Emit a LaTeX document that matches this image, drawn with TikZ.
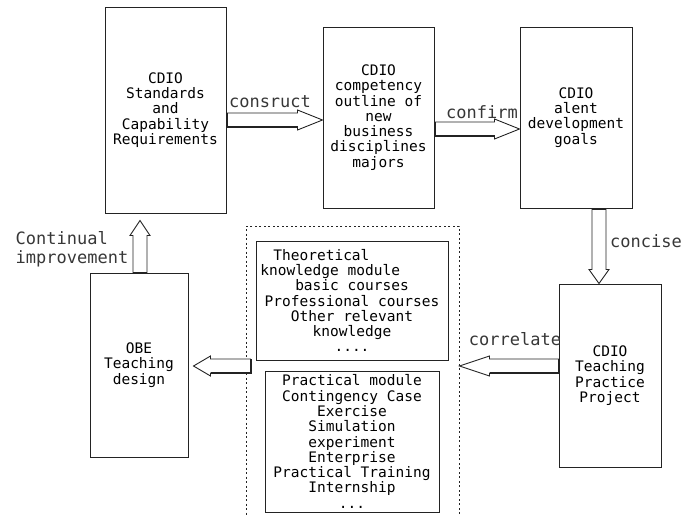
\documentclass[tikz,border=0pt]{standalone}
\usepackage{fontspec}
\setmainfont{DejaVu Sans Mono}
\usetikzlibrary{positioning, calc}
\definecolor{frame}{RGB}{35,35,35}
\definecolor{labeltext}{RGB}{55,55,55}

\tikzset{
  stage/.style={draw=frame, line width=1pt, align=center, inner sep=2pt,
                font=\fontsize{14.5}{15.3}\selectfont},
  module/.style={draw=frame, line width=1pt, dash pattern=on 2pt off 2.5pt},
  verb/.style={text=labeltext, inner sep=0pt, font=\fontsize{17}{19}\selectfont},
  arrowline/.style={draw=frame, line width=0.9pt, fill=white, line join=miter},
  shadeline/.style={draw=frame, line width=2pt},
}

% hollow block arrow: start, end, head length, shaded side (0 = tail only)
\newcommand{\hollowarrow}[4]{%
  \draw[arrowline] let \p1=(#1), \p2=(#2),
      \n1={atan2(\y2-\y1,\x2-\x1)}, \n2={veclen(\x2-\x1,\y2-\y1)} in
    (\p1) ++({\n1+90}:7pt) -- ++({\n1}:{(\n2-#3)*1pt}) -- ++({\n1+90}:3pt) -- (\p2)
    -- ($(\p1)+({\n1}:{(\n2-#3)*1pt})+({\n1-90}:10pt)$) -- ++({\n1+90}:3pt)
    -- ++({\n1+180}:{(\n2-#3)*1pt}) -- cycle;
  \ifnum#4=0
    \draw[shadeline] let \p1=(#1), \p2=(#2), \n1={atan2(\y2-\y1,\x2-\x1)} in
      ($(\p1)+({\n1+90}:7pt)$) -- ($(\p1)+({\n1-90}:7pt)$);
  \else
    \draw[shadeline] let \p1=(#1), \p2=(#2),
        \n1={atan2(\y2-\y1,\x2-\x1)}, \n2={veclen(\x2-\x1,\y2-\y1)} in
      ($(\p1)+({\n1-#4*90}:7pt)$) -- ($(\p1)+({\n1+#4*90}:7pt)$)
      -- ++({\n1}:{(\n2-#3)*1pt});
  \fi
}

\begin{document}
\begin{tikzpicture}[x=1pt, y=-1pt]
\useasboundingbox (0,0) rectangle (683,515);

% top row
\node[stage, minimum width=121pt, minimum height=206pt] (std) at (165.5,110)
  {CDIO\\Standards\\and\\Capability\\Requirements};
\node[stage, minimum width=111pt, minimum height=181pt] (comp) at (378.5,117.5)
  {CDIO\\competency\\outline of\\new\\business\\disciplines\\majors};
\node[stage, minimum width=112pt, minimum height=181pt] (goal) at (576,117.5)
  {CDIO\\alent\\development\\goals};

% bottom row
\node[stage, minimum width=98pt, minimum height=184pt] (obe) at (139,365)
  {OBE\\Teaching\\design};
\node[stage, minimum width=102pt, minimum height=183pt] (tpp) at (610,375.5)
  {CDIO\\Teaching\\Practice\\Project};

% course modules
\node[module, minimum width=213pt, minimum height=300pt] (mod) at (352.5,376) {};
\node[stage, minimum width=192pt, minimum height=119pt] (theo) at (352,300.5)
  {Theoretical\phantom{xxxxxxx}\\knowledge module\phantom{xxxxx}\\basic courses\\
   Professional courses\\Other relevant\\knowledge\\....};
\node[stage, minimum width=174pt, minimum height=141pt] (prac) at (352,441.5)
  {Practical module\\Contingency Case\\Exercise\\Simulation\\experiment\\
   Enterprise\\Practical Training\\Internship\\...};

% arrows
\coordinate (c1) at ($(std.east)+(0,10)$);
\hollowarrow{c1}{c1 -| comp.west}{25}{-1}
\coordinate (c2) at ($(comp.east)+(0,11.5)$);
\hollowarrow{c2}{c2 -| goal.west}{25}{-1}
\coordinate (c3) at ($(goal.south)+(23,0)$);
\hollowarrow{c3}{c3 |- tpp.north}{14}{0}
\coordinate (c4) at ($(tpp.west)+(0,-9.5)$);
\hollowarrow{c4}{c4 -| mod.east}{30}{1}
\coordinate (c5) at ($(c4 -| mod.west)+(5,0)$);
\hollowarrow{c5}{$(c5 -| obe.east)+(5,0)$}{17}{1}
\coordinate (c6) at ($(obe.north)+(1,0)$);
\hollowarrow{c6}{$(c6 |- std.south)+(0,7)$}{15}{0}

% arrow labels
\node[verb] (lconsruct) at (270,102) {consruct};
\node[verb] (lconfirm) at (482,112) {confirm};
\node[verb] (lconcise) at (646,241) {concise};
\node[verb] (lcorrelate) at (515,339) {correlate};
\node[verb, align=left] (limprove) at (72,249) {Continual\\improvement};
\end{tikzpicture}
\end{document}
